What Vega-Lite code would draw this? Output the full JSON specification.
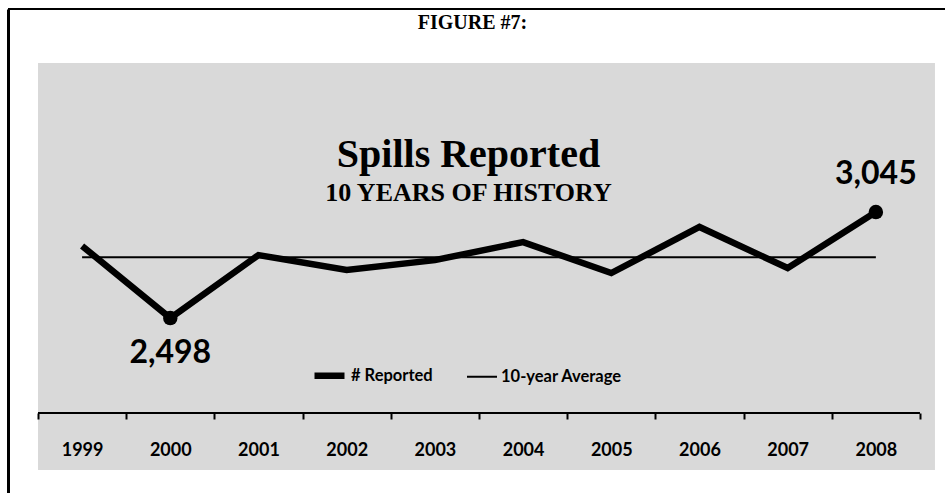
{
  "$schema": "https://vega.github.io/schema/vega-lite/v6.json",
  "width": 937,
  "height": 484,
  "autosize": "none",
  "padding": {"left": 8, "top": 9, "right": 0, "bottom": 0},
  "background": "white",
  "title": {
    "text": "Spills Reported",
    "subtitle": "10 YEARS OF HISTORY",
    "anchor": "middle",
    "dx": -8,
    "offset": -198,
    "font": "Liberation Serif",
    "fontSize": 40,
    "fontWeight": "bold",
    "color": "black",
    "subtitleFont": "Liberation Serif",
    "subtitleFontSize": 26,
    "subtitleFontWeight": "bold",
    "subtitleColor": "black",
    "subtitlePadding": 5
  },
  "data": {
    "values": [
      {"year": "1999", "series": "# Reported", "value": 2870},
      {"year": "2000", "series": "# Reported", "value": 2498},
      {"year": "2001", "series": "# Reported", "value": 2823},
      {"year": "2002", "series": "# Reported", "value": 2746},
      {"year": "2003", "series": "# Reported", "value": 2797},
      {"year": "2004", "series": "# Reported", "value": 2890},
      {"year": "2005", "series": "# Reported", "value": 2730},
      {"year": "2006", "series": "# Reported", "value": 2968},
      {"year": "2007", "series": "# Reported", "value": 2756},
      {"year": "2008", "series": "# Reported", "value": 3045},
      {"year": "1999", "series": "10-year Average", "value": 2812},
      {"year": "2000", "series": "10-year Average", "value": 2812},
      {"year": "2001", "series": "10-year Average", "value": 2812},
      {"year": "2002", "series": "10-year Average", "value": 2812},
      {"year": "2003", "series": "10-year Average", "value": 2812},
      {"year": "2004", "series": "10-year Average", "value": 2812},
      {"year": "2005", "series": "10-year Average", "value": 2812},
      {"year": "2006", "series": "10-year Average", "value": 2812},
      {"year": "2007", "series": "10-year Average", "value": 2812},
      {"year": "2008", "series": "10-year Average", "value": 2812}
    ]
  },
  "layer": [
    {
      "data": {"values": [{}]},
      "mark": {"type": "rect", "color": "#d9d9d9"},
      "encoding": {
        "x": {"datum": "1999", "type": "ordinal", "bandPosition": 0},
        "x2": {"datum": "2008", "bandPosition": 1.17},
        "y": {"datum": 3814, "type": "quantitative"},
        "y2": {"datum": 1714}
      }
    },
    {
      "data": {"values": [{}]},
      "mark": {"type": "rule", "color": "black", "strokeWidth": 2},
      "encoding": {
        "x": {"datum": "1999", "type": "ordinal", "bandPosition": 0},
        "x2": {"datum": "2008", "bandPosition": 1},
        "y": {"datum": 2008, "type": "quantitative"}
      }
    },
    {
      "data": {"values": [{}]},
      "mark": {"type": "rule", "color": "black", "strokeWidth": 2},
      "encoding": {
        "y": {"datum": 4093, "type": "quantitative"}
      }
    },
    {
      "mark": {"type": "line", "color": "black", "strokeJoin": "miter"},
      "encoding": {
        "x": {
          "field": "year",
          "type": "ordinal",
          "bandPosition": 0.5,
          "scale": {"type": "band", "paddingInner": 0, "paddingOuter": 0.312, "align": 0.545},
          "axis": {
            "title": null,
            "orient": "bottom",
            "offset": -80,
            "domain": false,
            "bandPosition": 0.5,
            "tickBand": "extent",
            "labelAlign": "center",
            "labelAngle": 0,
            "grid": false,
            "tickColor": "black",
            "tickWidth": 2,
            "tickSize": 6,
            "labelFont": "Lato",
            "labelFontWeight": "bold",
            "labelFontSize": 18,
            "labelColor": "black",
            "labelPadding": 31
          }
        },
        "y": {
          "field": "value",
          "type": "quantitative",
          "scale": {"domain": [1595, 4093], "nice": false, "zero": false},
          "axis": {
            "title": "FIGURE #7:",
            "domain": true,
            "domainColor": "black",
            "domainWidth": 3,
            "ticks": false,
            "labels": false,
            "grid": false,
            "titleAngle": 0,
            "titleX": 464,
            "titleY": 13,
            "titleAlign": "center",
            "titleBaseline": "middle",
            "titleFont": "Liberation Serif",
            "titleFontSize": 20,
            "titleFontWeight": "bold",
            "titleColor": "black"
          }
        },
        "detail": {"field": "series", "type": "nominal"},
        "strokeWidth": {
          "field": "series",
          "type": "ordinal",
          "scale": {"domain": ["# Reported", "10-year Average"], "range": [6.5, 2]},
          "legend": {
            "title": null,
            "orient": "none",
            "legendX": 303,
            "legendY": 348,
            "direction": "horizontal",
            "symbolType": "stroke",
            "symbolStrokeColor": "black",
            "symbolSize": 900,
            "labelFont": "Lato",
            "labelFontWeight": "bold",
            "labelFontSize": 16.5,
            "labelColor": "black",
            "labelOffset": 3,
            "columnPadding": 30
          }
        }
      }
    },
    {
      "transform": [{"filter": "datum.series === '# Reported' && (datum.year === '2000' || datum.year === '2008')"}],
      "mark": {"type": "point", "filled": true, "color": "black", "size": 210, "opacity": 1},
      "encoding": {
        "x": {"field": "year", "type": "ordinal", "bandPosition": 0.5},
        "y": {"field": "value", "type": "quantitative"}
      }
    },
    {
      "transform": [{"filter": "datum.series === '# Reported' && datum.year === '2000'"}],
      "mark": {"type": "text", "font": "Lato", "fontWeight": "bold", "fontSize": 32, "color": "black", "baseline": "middle", "dy": 35},
      "encoding": {
        "x": {"field": "year", "type": "ordinal", "bandPosition": 0.5},
        "y": {"field": "value", "type": "quantitative"},
        "text": {"field": "value", "type": "quantitative", "format": ",d"}
      }
    },
    {
      "transform": [{"filter": "datum.series === '# Reported' && datum.year === '2008'"}],
      "mark": {"type": "text", "font": "Lato", "fontWeight": "bold", "fontSize": 32, "color": "black", "baseline": "middle", "dy": -38},
      "encoding": {
        "x": {"field": "year", "type": "ordinal", "bandPosition": 0.5},
        "y": {"field": "value", "type": "quantitative"},
        "text": {"field": "value", "type": "quantitative", "format": ",d"}
      }
    }
  ],
  "config": {
    "view": {"stroke": null, "fill": "white"}
  }
}
